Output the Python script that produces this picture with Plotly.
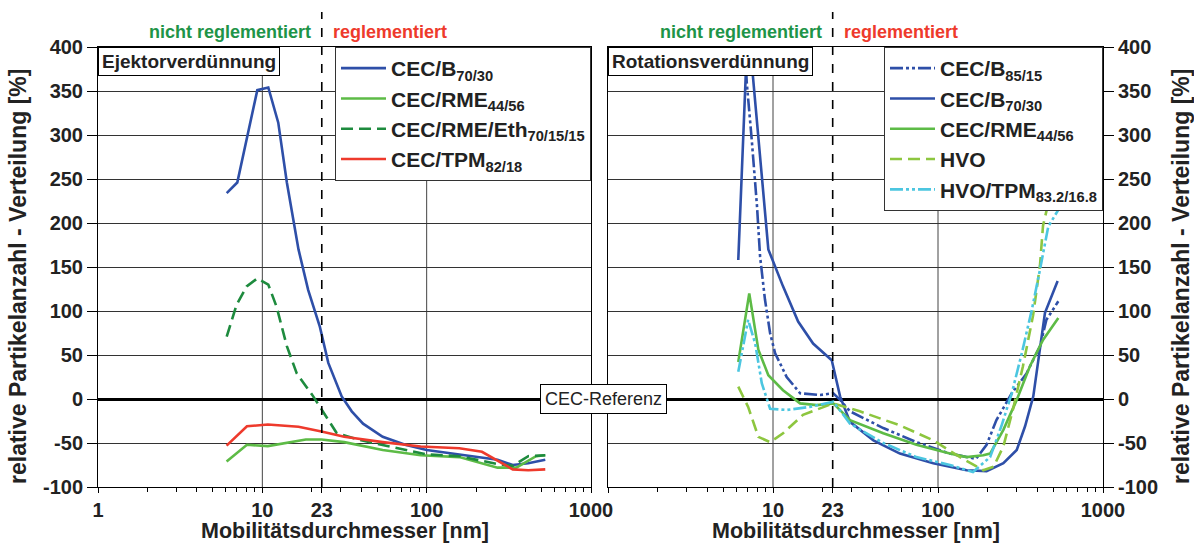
import math
import plotly.graph_objects as go

# ---------------- data: left panel (Ejektorverdünnung) ----------------
ej_b7030_d = [6.07, 7.04, 9.32, 10.87, 12.5, 14.1, 16.6, 19.0, 22.4, 25.2, 30.4, 35, 41, 54, 74, 100, 158, 270, 334, 415, 527]
ej_b7030_v = [234, 246, 351, 354, 314, 246, 170, 124, 82, 41, 3, -14, -28, -43, -52, -58, -63, -69, -75, -73, -69]

ej_rme_d = [6.06, 8.06, 10.8, 13.4, 18.4, 22.9, 31.5, 54, 92, 158, 270, 351, 463, 527]
ej_rme_v = [-71, -52, -53.5, -50.5, -46, -46, -49, -58, -64, -66, -78, -78, -65, -64]

ej_eth_d = [6.07, 6.97, 8.03, 9.32, 10.87, 12.2, 14.1, 16.2, 20.4, 22.9, 28.4, 40, 54, 74, 100, 158, 270, 334, 415, 527]
ej_eth_v = [71, 107, 128, 137, 130, 105, 60, 29, 3, -12, -39, -47, -52, -58, -63, -65, -74, -76, -65, -64]

ej_tpm_d = [6.06, 8.06, 10.8, 16.6, 22.9, 31.5, 54, 92, 158, 217, 334, 415, 527]
ej_tpm_v = [-53, -31, -29, -31.5, -37, -43, -49, -54, -56, -60, -80, -81, -80]

# ---------------- data: right panel (Rotationsverdünnung) ----------------
rot_b8515_d = [6.75, 6.93, 7.43, 8.0, 8.35, 8.94, 9.6, 10.3, 12.1, 14.6, 19.3, 23.2, 25.5, 29.3, 46.6, 74, 118, 170, 197, 226, 280, 344, 415, 454, 536]
rot_b8515_v = [405, 360, 295, 219, 162, 113, 75, 52, 25, 6.5, 4.6, 6.5, -1, -14, -33, -49, -62, -68, -52, -24, 6.5, 29, 60, 90, 111]

rot_b7030_d = [6.16, 7.05, 9.37, 11.5, 14.2, 17.5, 22.7, 25.5, 29.3, 40.6, 58.8, 93.6, 149, 197, 249, 300, 337, 378, 445, 531]
rot_b7030_v = [158, 430, 170, 128, 88, 63, 44, 3, -26, -47, -62, -73, -81, -82, -73, -58, -31, 3, 98, 134]

rot_rme_d = [6.16, 7.18, 8.15, 9.37, 11.5, 14.6, 18.4, 23.2, 29.3, 46.6, 74, 118, 149, 188, 207, 249, 300, 360, 433, 536]
rot_rme_v = [42, 120, 56, 27, 10, -5, -7, -5, -24, -39, -52, -62, -66, -64, -62, -35, -1, 37, 67, 92]

rot_hvo_d = [6.16, 7.07, 8.15, 9.6, 11.5, 15.2, 23.2, 33.6, 58.8, 93.6, 136, 188, 217, 249, 287, 327, 377, 415, 433, 497, 536]
rot_hvo_v = [14, -9, -43, -49, -39, -18, -5, -14, -30, -47, -66, -81, -77, -54, -9, 37, 95, 152, 197, 245, 265]

rot_hvotpm_d = [6.16, 7.07, 7.8, 8.55, 9.6, 12.1, 16.7, 23.2, 29.3, 46.6, 74, 118, 163, 207, 242, 280, 322, 370, 415, 466, 536]
rot_hvotpm_v = [31, 90, 63, 18, -11, -12.5, -9, -3, -28, -50, -66, -75, -83, -66, -31, 6.5, 52, 101, 147, 196, 215]

# ---------------- axes / labels ----------------
x_tick_vals = [1, 10, 23, 100, 1000]
x_tick_text_left = ["1", "10", "23", "100", "1000"]
x_tick_text_right = ["", "10", "23", "100", "1000"]
x_minor_vals = [2, 3, 4, 5, 6, 7, 8, 9, 20, 30, 40, 50, 60, 70, 80, 90, 200, 300, 400, 500, 600, 700, 800, 900]
x_grid_vals = [10, 100]
y_tick_vals = [-100, -50, 0, 50, 100, 150, 200, 250, 300, 350, 400]
y_tick_text = ["-100", "-50", "0", "50", "100", "150", "200", "250", "300", "350", "400"]
limit_d = 23

BLUE = "#2E4FA8"
LGREEN = "#5DBB46"
DGREEN = "#1E8B3E"
RED = "#EE3A2C"
HVOC = "#8DC63F"
CYAN = "#4CC6E0"
TXT = "#222222"
FONT = "Liberation Sans, Arial, sans-serif"
LW = 2.6
DASHDOTDOT = "13px,3px,3px,3px,3px,3px"
DASH = "12px,6px"

fig = go.Figure()

def add(x, y, name, color, dash, xa, ya, leg):
    fig.add_trace(go.Scatter(x=x, y=y, name=name, mode="lines",
                             line=dict(color=color, width=LW, dash=dash),
                             xaxis=xa, yaxis=ya, legend=leg))

add(ej_b7030_d, ej_b7030_v, "CEC/B<sub>70/30</sub>", BLUE, "solid", "x", "y", "legend")
add(ej_rme_d, ej_rme_v, "CEC/RME<sub>44/56</sub>", LGREEN, "solid", "x", "y", "legend")
add(ej_eth_d, ej_eth_v, "CEC/RME/Eth<sub>70/15/15</sub>", DGREEN, DASH, "x", "y", "legend")
add(ej_tpm_d, ej_tpm_v, "CEC/TPM<sub>82/18</sub>", RED, "solid", "x", "y", "legend")

add(rot_b8515_d, rot_b8515_v, "CEC/B<sub>85/15</sub>", BLUE, DASHDOTDOT, "x2", "y2", "legend2")
add(rot_b7030_d, rot_b7030_v, "CEC/B<sub>70/30</sub>", BLUE, "solid", "x2", "y2", "legend2")
add(rot_rme_d, rot_rme_v, "CEC/RME<sub>44/56</sub>", LGREEN, "solid", "x2", "y2", "legend2")
add(rot_hvo_d, rot_hvo_v, "HVO", HVOC, DASH, "x2", "y2", "legend2")
add(rot_hvotpm_d, rot_hvotpm_v, "HVO/TPM<sub>83.2/16.8</sub>", CYAN, DASHDOTDOT, "x2", "y2", "legend2")

W, H = 1194, 548
y_dom = [1 - 487 / H, 1 - 47 / H]
x1_dom = [98 / W, 591 / W]
x2_dom = [608 / W, 1103 / W]

tickfont = dict(family=FONT, size=20, color=TXT, weight="bold")

def xaxis(dom, anchor, labels):
    return dict(type="log", range=[0, 3], domain=dom, anchor=anchor, automargin=False,
                tickmode="array", tickvals=x_tick_vals, ticktext=labels,
                ticks="outside", ticklen=5, tickcolor="black", tickwidth=1,
                showgrid=False, zeroline=False, showline=True, linecolor="black",
                linewidth=1, mirror=True, tickfont=tickfont,
                minor=dict(tickvals=x_minor_vals, ticks="outside", ticklen=4,
                           tickcolor="black", tickwidth=1, showgrid=False))

def yaxis(anchor, side):
    return dict(range=[-100, 400], domain=y_dom, anchor=anchor, side=side, automargin=False,
                tickmode="array", tickvals=y_tick_vals, ticktext=y_tick_text,
                ticks="outside", ticklen=10, tickcolor="black",
                showgrid=True, gridcolor="#333333", gridwidth=1,
                zeroline=True, zerolinecolor="black", zerolinewidth=3,
                showline=True, linecolor="black", linewidth=1, mirror=True,
                tickfont=tickfont)

legfont = dict(family=FONT, size=21, color=TXT, weight="bold")

fig.update_layout(
    width=W, height=H,
    margin=dict(l=0, r=0, t=0, b=0, autoexpand=False),
    paper_bgcolor="white", plot_bgcolor="white",
    showlegend=True,
    xaxis=xaxis(x1_dom, "y", x_tick_text_left),
    yaxis=yaxis("x", "left"),
    xaxis2=xaxis(x2_dom, "y2", x_tick_text_right),
    yaxis2=yaxis("x2", "right"),
    legend=dict(x=x1_dom[1], y=y_dom[1], xanchor="right", yanchor="top",
                bgcolor="white", bordercolor="#333333", borderwidth=1,
                font=legfont, tracegroupgap=0, itemwidth=45),
    legend2=dict(x=x2_dom[1], y=y_dom[1], xanchor="right", yanchor="top",
                 bgcolor="white", bordercolor="#333333", borderwidth=1,
                 font=legfont, tracegroupgap=0, itemwidth=45),
)

shapes = []
for xa in ["x", "x2"]:
    for g in x_grid_vals:
        shapes.append(dict(type="line", xref=xa, yref=xa.replace("x", "y") + " domain",
                           x0=g, x1=g, y0=0, y1=1, layer="below",
                           line=dict(color="#444444", width=1)))
    shapes.append(dict(type="line", xref=xa, yref="paper", x0=limit_d, x1=limit_d,
                       y0=y_dom[0], y1=1 - 12 / H, layer="above",
                       line=dict(color="black", width=1.6, dash="dash")))
fig.update_layout(shapes=shapes)

ann = []
for xa, ya, title in [("x", "y", "Ejektorverdünnung"), ("x2", "y2", "Rotationsverdünnung")]:
    ann.append(dict(xref=xa, yref="paper", x=math.log10(limit_d), y=1 - 32 / H,
                    yanchor="middle", text="nicht reglementiert", showarrow=False,
                    xanchor="right", xshift=-9,
                    font=dict(family=FONT, size=18, color="#1E9448", weight="bold")))
    ann.append(dict(xref=xa, yref="paper", x=math.log10(limit_d), y=1 - 32 / H,
                    yanchor="middle", text="reglementiert", showarrow=False,
                    xanchor="left", xshift=9,
                    font=dict(family=FONT, size=18, color=RED, weight="bold")))
    ann.append(dict(xref=xa + " domain", yref=ya + " domain", x=0, y=1,
                    xanchor="left", yanchor="top", text=title, showarrow=False,
                    bgcolor="white", bordercolor="black", borderwidth=1, borderpad=3,
                    font=dict(family=FONT, size=19, color=TXT, weight="bold")))
    ann.append(dict(xref=xa + " domain", yref="paper", x=0.5, y=1 - 531 / H,
                    yanchor="middle", text="Mobilitätsdurchmesser [nm]", showarrow=False,
                    font=dict(family=FONT, size=21.5, color=TXT, weight="bold")))

for xp in [18 / W, 1181 / W]:
    ann.append(dict(xref="paper", yref="paper", x=xp, y=1 - 277 / H,
                    xanchor="center", yanchor="middle",
                    text="relative Partikelanzahl - Verteilung [%]", textangle=-90,
                    showarrow=False,
                    font=dict(family=FONT, size=23, color=TXT, weight="bold")))

ann.append(dict(xref="paper", yref="y", x=603.5 / W, y=0, text="CEC-Referenz",
                showarrow=False, bgcolor="white", bordercolor="black", borderwidth=1,
                borderpad=4, font=dict(family=FONT, size=18, color=TXT)))
fig.update_layout(annotations=ann)

fig.write_html("out.html", config={"displayModeBar": False},
               post_script="document.body.style.margin='0';document.body.style.padding='0';"
                           "document.body.style.overflow='hidden';")
